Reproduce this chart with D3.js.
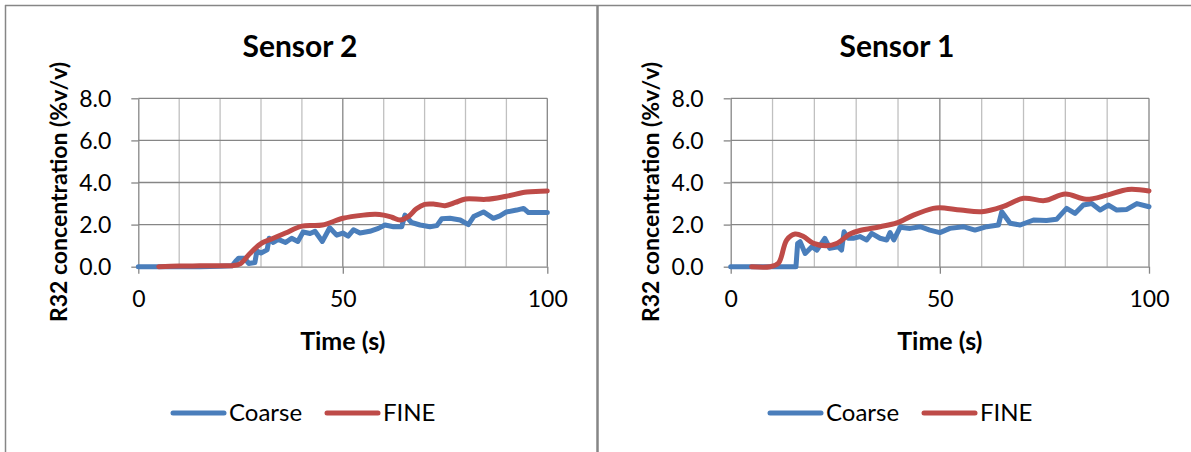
<!DOCTYPE html>
<html>
<head>
<meta charset="utf-8">
<script src="https://cdn.jsdelivr.net/npm/d3@7"></script>
<style>
  body { margin: 0; background: #fff; }
  svg { display: block; font-family: Lato, "Noto Sans", sans-serif; }
</style>
</head>
<body>
<div id="chart"></div>
<script>
// Sensor 2 (left)
var s2CoarseT = [0, 5, 10, 15, 20, 23, 24, 24.5, 26, 27, 28.5, 29, 30, 31.5, 32, 33, 34.2, 36, 37.5, 39, 40.3, 42, 43.2, 45, 46.8, 48.5, 50, 51.3, 52.6, 54.2, 56.6, 58.7, 60.3, 62.4, 64.4, 65.2, 66.8, 68.9, 71.3, 73, 74.2, 76.2, 78.7, 80.7, 82, 84.4, 85.6, 86.8, 88.4, 90, 92.5, 94.2, 95.4, 100];
var s2CoarseV = [0, 0, 0, 0, 0.02, 0.05, 0.3, 0.4, 0.4, 0.15, 0.2, 0.75, 0.65, 0.8, 1.35, 1.15, 1.3, 1.15, 1.35, 1.2, 1.65, 1.58, 1.68, 1.2, 1.85, 1.5, 1.6, 1.45, 1.75, 1.6, 1.68, 1.82, 1.98, 1.9, 1.9, 2.45, 2.1, 1.98, 1.9, 1.95, 2.28, 2.3, 2.22, 2.0, 2.38, 2.6, 2.45, 2.3, 2.41, 2.6, 2.69, 2.77, 2.57, 2.57];
var s2FineT = [5, 10, 15, 20, 23, 25, 27.3, 30, 33, 36, 40, 45, 50, 55, 58, 60, 62, 64, 66, 68, 70, 72.5, 75, 77.5, 80, 85, 90, 95, 100];
var s2FineV = [0, 0.03, 0.04, 0.05, 0.05, 0.15, 0.63, 1.1, 1.35, 1.6, 1.93, 1.98, 2.3, 2.45, 2.49, 2.45, 2.35, 2.22, 2.38, 2.75, 2.96, 2.97, 2.9, 3.05, 3.22, 3.2, 3.35, 3.55, 3.6];

// Sensor 1 (right)
var s1CoarseT = [0, 5, 10, 15, 15.6, 16, 16.6, 17.8, 19.4, 20.6, 22.5, 23.7, 25.7, 26.5, 27.1, 28.1, 29.3, 30.9, 32.5, 33.7, 35.7, 37.3, 38.1, 39, 40.5, 42.9, 45.3, 47.6, 50, 52.4, 55.6, 58.4, 61.2, 64, 64.8, 66.8, 69.2, 72.4, 75.5, 77.9, 80.3, 82.3, 84.3, 86.3, 88.3, 90.3, 92.3, 94.7, 97.1, 100];
var s1CoarseV = [0, 0, 0, 0, 0, 1.1, 1.19, 0.63, 0.95, 0.79, 1.35, 0.87, 0.95, 0.79, 1.66, 1.35, 1.35, 1.43, 1.27, 1.58, 1.35, 1.27, 1.62, 1.27, 1.87, 1.82, 1.9, 1.74, 1.62, 1.82, 1.9, 1.74, 1.9, 1.98, 2.61, 2.06, 1.98, 2.22, 2.19, 2.25, 2.77, 2.53, 2.93, 3.0, 2.69, 2.93, 2.69, 2.72, 3.0, 2.85];
var s1FineT = [5, 9.4, 11.4, 13.4, 15.4, 17.4, 19.8, 22.9, 25.3, 28.5, 30.9, 35.7, 39.7, 43.7, 48.4, 50, 55, 60, 65, 70, 75, 80, 85, 90, 95, 100];
var s1FineV = [0, 0, 0.16, 1.27, 1.55, 1.43, 1.11, 1.0, 1.1, 1.55, 1.72, 1.9, 2.08, 2.45, 2.77, 2.8, 2.69, 2.61, 2.85, 3.25, 3.14, 3.45, 3.2, 3.4, 3.67, 3.6];

var seriesNames = ['Coarse', 'FINE'];
var yTicks = [0, 2, 4, 6, 8];
var xTicks = [0, 50, 100];
var xMinor = [10, 20, 30, 40, 60, 70, 80, 90];

var colors = { Coarse: '#4a7ebb', FINE: '#be4b48' };
var gridDark = '#868686';
var gridLight = '#c0c0c0';

var width = 1191, height = 452;

var svg = d3.select('#chart')
    .append('svg')
    .attr('width', width)
    .attr('height', height);

svg.append('rect').attr('width', width).attr('height', height).attr('fill', '#fff');

// panel borders
svg.append('line').attr('x1', 5).attr('x2', width).attr('y1', 5.5).attr('y2', 5.5)
    .attr('stroke', gridDark).attr('stroke-width', 1.5);
svg.append('line').attr('x1', 5.5).attr('x2', 5.5).attr('y1', 5).attr('y2', height)
    .attr('stroke', gridDark).attr('stroke-width', 1.5);
svg.append('line').attr('x1', 597.5).attr('x2', 597.5).attr('y1', 5).attr('y2', height)
    .attr('stroke', gridDark).attr('stroke-width', 2.5);

function zip(t, v) {
    return t.map(function (d, i) { return [d, v[i]]; });
}

var panels = [
    { title: 'Sensor 2', left: 138.3, right: 547.3, titleX: 300, yTitleX: 67,
      legendX: 171, coarse: zip(s2CoarseT, s2CoarseV), fine: zip(s2FineT, s2FineV) },
    { title: 'Sensor 1', left: 730.7, right: 1149, titleX: 897, yTitleX: 659,
      legendX: 768, coarse: zip(s1CoarseT, s1CoarseV), fine: zip(s1FineT, s1FineV) }
];

var plotTop = 98.3, plotBottom = 266.7;

panels.forEach(function (p) {
    var g = svg.append('g');

    var x_scale = d3.scaleLinear().domain([0, 100]).range([p.left, p.right]);
    var y_scale = d3.scaleLinear().domain([0, 8]).range([plotBottom, plotTop]);

    // gridlines
    g.selectAll('.minor')
        .data(xMinor)
        .enter()
        .append('line')
        .attr('x1', function (d) { return x_scale(d); })
        .attr('x2', function (d) { return x_scale(d); })
        .attr('y1', plotTop).attr('y2', plotBottom)
        .attr('stroke', gridLight).attr('stroke-width', 1.3);

    g.selectAll('.hgrid')
        .data(yTicks.slice(1))
        .enter()
        .append('line')
        .attr('x1', p.left).attr('x2', p.right)
        .attr('y1', function (d) { return y_scale(d); })
        .attr('y2', function (d) { return y_scale(d); })
        .attr('stroke', gridDark).attr('stroke-width', 1.3);

    g.selectAll('.vgrid')
        .data(xTicks.slice(1))
        .enter()
        .append('line')
        .attr('x1', function (d) { return x_scale(d); })
        .attr('x2', function (d) { return x_scale(d); })
        .attr('y1', plotTop).attr('y2', plotBottom)
        .attr('stroke', gridDark).attr('stroke-width', 1.3);

    // axes
    var yAxis = g.append('g')
        .attr('transform', 'translate(' + p.left + ',0)')
        .call(d3.axisLeft(y_scale).tickValues(yTicks).tickSize(7).tickSizeOuter(0)
            .tickPadding(20).tickFormat(d3.format('.1f')));
    var xAxis = g.append('g')
        .attr('transform', 'translate(0,' + plotBottom + ')')
        .call(d3.axisBottom(x_scale).tickValues(xTicks).tickSize(7).tickSizeOuter(0)
            .tickPadding(17));
    [yAxis, xAxis].forEach(function (a) {
        a.selectAll('path, line').attr('stroke', gridDark).attr('stroke-width', 1.3);
        a.selectAll('text').attr('fill', '#000').style('font-size', '23px')
            .style('font-family', 'Lato, sans-serif');
    });
    yAxis.selectAll('text').attr('dy', '0.36em');

    // lines
    var coarseLine = d3.line()
        .x(function (d) { return x_scale(d[0]); })
        .y(function (d) { return y_scale(d[1]); });
    var fineLine = d3.line()
        .curve(d3.curveCatmullRom.alpha(0.5))
        .x(function (d) { return x_scale(d[0]); })
        .y(function (d) { return y_scale(d[1]); });

    g.append('path')
        .attr('d', coarseLine(p.coarse))
        .attr('fill', 'none')
        .attr('stroke', colors.Coarse)
        .attr('stroke-width', 5)
        .attr('stroke-linejoin', 'round')
        .attr('stroke-linecap', 'round');
    g.append('path')
        .attr('d', fineLine(p.fine))
        .attr('fill', 'none')
        .attr('stroke', colors.FINE)
        .attr('stroke-width', 5)
        .attr('stroke-linejoin', 'round')
        .attr('stroke-linecap', 'round');

    // titles
    g.append('text')
        .text(p.title)
        .attr('x', p.titleX).attr('y', 57)
        .attr('text-anchor', 'middle')
        .style('font-size', '30px').style('font-weight', 'bold');
    g.append('text')
        .text('Time (s)')
        .attr('x', x_scale(50)).attr('y', 350)
        .attr('text-anchor', 'middle')
        .style('font-size', '25px').style('font-weight', 'bold');
    g.append('text')
        .text('R32 concentration (%v/v)')
        .attr('transform', 'translate(' + p.yTitleX + ',192) rotate(-90)')
        .attr('text-anchor', 'middle')
        .style('font-size', '23px').style('font-weight', 'bold');

    // legend
    var lg = g.append('g').attr('transform', 'translate(' + p.legendX + ',413)');
    var offsets = [0, 154];
    seriesNames.forEach(function (name, i) {
        lg.append('line')
            .attr('x1', offsets[i] + 2).attr('x2', offsets[i] + 53)
            .attr('y1', 0).attr('y2', 0)
            .attr('stroke', colors[name]).attr('stroke-width', 5)
            .attr('stroke-linecap', 'round');
        lg.append('text')
            .text(name)
            .attr('x', offsets[i] + 58).attr('y', 8)
            .style('font-size', '24px');
    });
});
</script>
</body>
</html>
